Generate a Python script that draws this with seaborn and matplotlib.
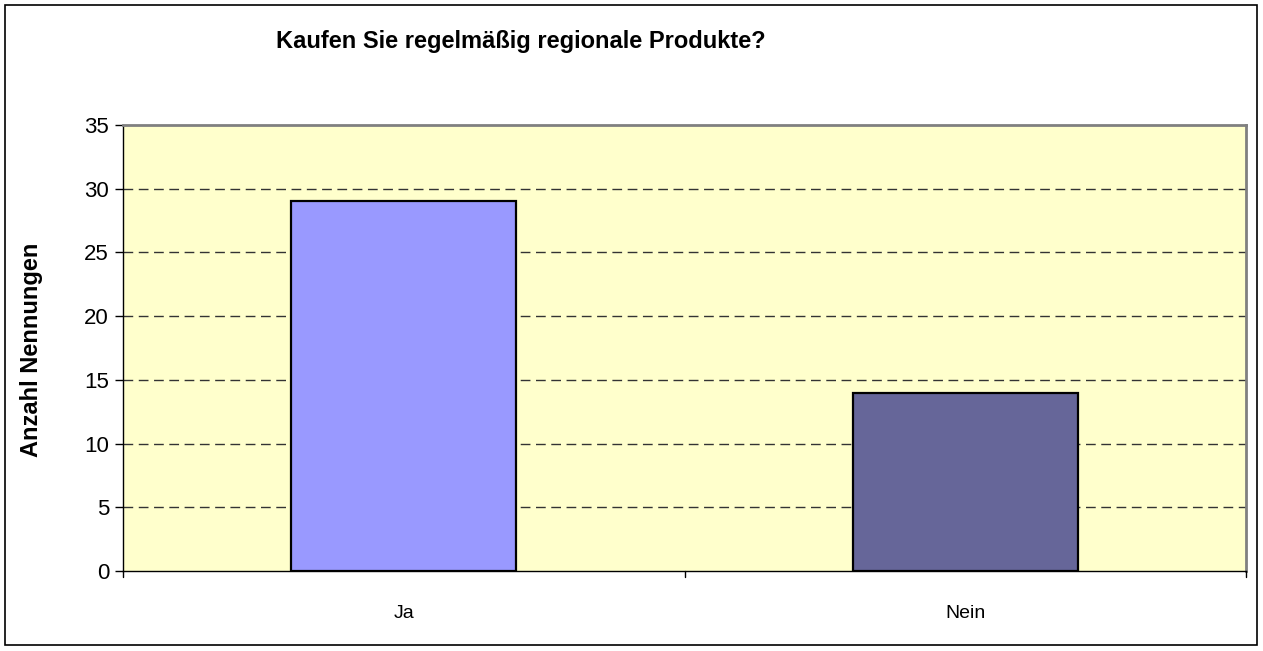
import matplotlib
matplotlib.use("Agg")
import matplotlib.pyplot as plt
import seaborn as sns
import pandas as pd
from matplotlib.patches import Rectangle

# ---------------------------------------------------------------------
# Data
# ---------------------------------------------------------------------
antworten = ["Ja", "Nein"]
nennungen = [29, 14]
farben = ["#9999FF", "#666699"]

title = "Kaufen Sie regelmäßig regionale Produkte?"
y_label = "Anzahl Nennungen"
y_ticks = [0, 5, 10, 15, 20, 25, 30, 35]

df = pd.DataFrame({"antwort": antworten, "anzahl": nennungen})

# ---------------------------------------------------------------------
# Plot
# ---------------------------------------------------------------------
sns.set_style("white", {"text.color": "black", "axes.labelcolor": "black",
                        "xtick.color": "black", "ytick.color": "black"})
plt.rcParams["font.family"] = ["Liberation Sans", "DejaVu Sans"]

W, H = 1263, 651
fig = plt.figure(figsize=(W / 100, H / 100), dpi=100)
ax = fig.add_axes([123 / W, 1 - 571 / H, (1246 - 123) / W, (571 - 125) / H])

sns.barplot(data=df, x="antwort", y="anzahl", hue="antwort", palette=farben,
            saturation=1, width=0.4, edgecolor="black", linewidth=1.6,
            legend=False, ax=ax, zorder=3)

ax.set_facecolor("#FFFFCC")
ax.set_xlim(-0.5, 1.5)
ax.set_ylim(0, 35)
ax.set_yticks(y_ticks)
ax.set_yticklabels([str(t) for t in y_ticks], fontsize=16)
ax.tick_params(axis="y", direction="out", length=6, width=1, color="black", pad=4, left=True)
ax.tick_params(axis="x", bottom=False, labelsize=14, pad=21)

# category separator ticks on the x axis
for xb in [-0.5, 0.5, 1.5]:
    ax.plot([xb, xb], [0, -0.5], color="black", lw=1, clip_on=False, zorder=5)

for y in y_ticks[1:-1]:
    ax.axhline(y, color="#333333", lw=1, ls=(0, (7, 4)), zorder=1)

for side in ["top", "right"]:
    ax.spines[side].set_color("#808080")
    ax.spines[side].set_linewidth(2)
for side in ["left", "bottom"]:
    ax.spines[side].set_color("black")
    ax.spines[side].set_linewidth(1)
    ax.spines[side].set_visible(True)

ax.set_xlabel("")
ax.set_ylabel("")
fig.text(32 / W, 1 - 350 / H, y_label, fontsize=17, fontweight="bold",
         rotation=90, ha="center", va="center")

fig.text(521 / W, 1 - 48 / H, title, fontsize=17, fontweight="bold",
         ha="center", va="baseline")

# outer chart frame
fig.patches.append(Rectangle((5 / W, 6 / H), 1252 / W, 640 / H,
                             transform=fig.transFigure, fill=False,
                             edgecolor="black", linewidth=1.2))

fig.savefig("out.png", dpi=100, facecolor="white")
